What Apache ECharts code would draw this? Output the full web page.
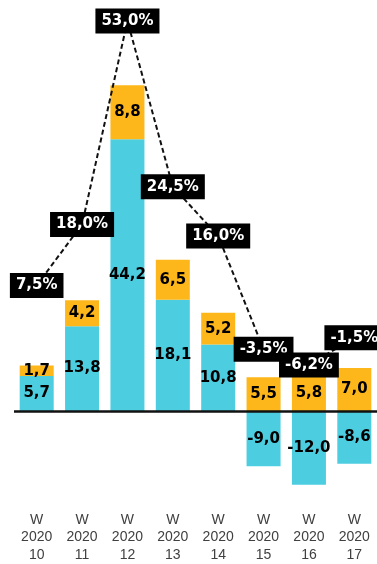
<!DOCTYPE html>
<html>
<head>
<meta charset="utf-8">
<script src="https://cdn.jsdelivr.net/npm/echarts@6/dist/echarts.min.js"></script>
<style>html,body{margin:0;padding:0;background:#fff}#c{width:377px;height:564px}</style>
</head>
<body>
<div id="c"></div>
<script>
const categories = ['W\n2020\n10','W\n2020\n11','W\n2020\n12','W\n2020\n13','W\n2020\n14','W\n2020\n15','W\n2020\n16','W\n2020\n17'];
const blueValues = [5.7, 13.8, 44.2, 18.1, 10.8, -9.0, -12.0, -8.6];
const orangeValues = [1.7, 4.2, 8.8, 6.5, 5.2, 5.5, 5.8, 7.0];
const pctValues = [7.5, 18.0, 53.0, 24.5, 16.0, -3.5, -6.2, -1.5];

const fmt = v => v.toFixed(1).replace('.', ',');
const barLabel = {
  show: true, position: 'inside', color: '#000',
  fontFamily: 'DejaVu Sans', fontWeight: 'bold', fontSize: 15,
  formatter: p => fmt(p.value)
};

const chart = echarts.init(document.getElementById('c'), null, {renderer: 'canvas'});
chart.setOption({
  animation: false,
  grid: {left: 14, right: 0, top: 73, bottom: 67, containLabel: false},
  xAxis: {
    type: 'category', data: categories,
    axisLine: {show: false, onZero: false}, axisTick: {show: false},
    axisLabel: {color: '#404040', fontFamily: 'Liberation Sans', fontSize: 14, lineHeight: 17.5, margin: 14, interval: 0}
  },
  yAxis: [
    {type: 'value', min: -14, max: 55, show: false, splitLine: {show: false}},
    {type: 'value', min: -28.92, max: 44.06, show: false, splitLine: {show: false}}
  ],
  series: [
    {
      name: 'blue', type: 'bar', stack: 's', data: blueValues, barWidth: 34,
      itemStyle: {color: '#4DCDE0'}, label: barLabel,
      markLine: {
        silent: true, symbol: 'none', label: {show: false},
        lineStyle: {color: '#111', width: 2.5, type: 'solid'},
        data: [{yAxis: 0}]
      }
    },
    {
      name: 'orange', type: 'bar', stack: 's', data: orangeValues, barWidth: 34,
      itemStyle: {color: '#FDB71A'}, label: barLabel
    },
    {
      name: 'pct', type: 'line', yAxisIndex: 1, data: pctValues, z: 5, clip: false,
      symbol: 'circle', symbolSize: 1, itemStyle: {color: 'rgba(0,0,0,0)'},
      lineStyle: {color: '#111', width: 2, type: [5, 3]},
      label: {
        show: true, position: 'inside', color: '#fff', backgroundColor: '#000',
        fontFamily: 'DejaVu Sans', fontWeight: 'bold', fontSize: 15,
        padding: [4, 6, 3, 6], lineHeight: 18,
        formatter: p => fmt(p.value) + '%'
      }
    }
  ]
});
</script>
</body>
</html>
